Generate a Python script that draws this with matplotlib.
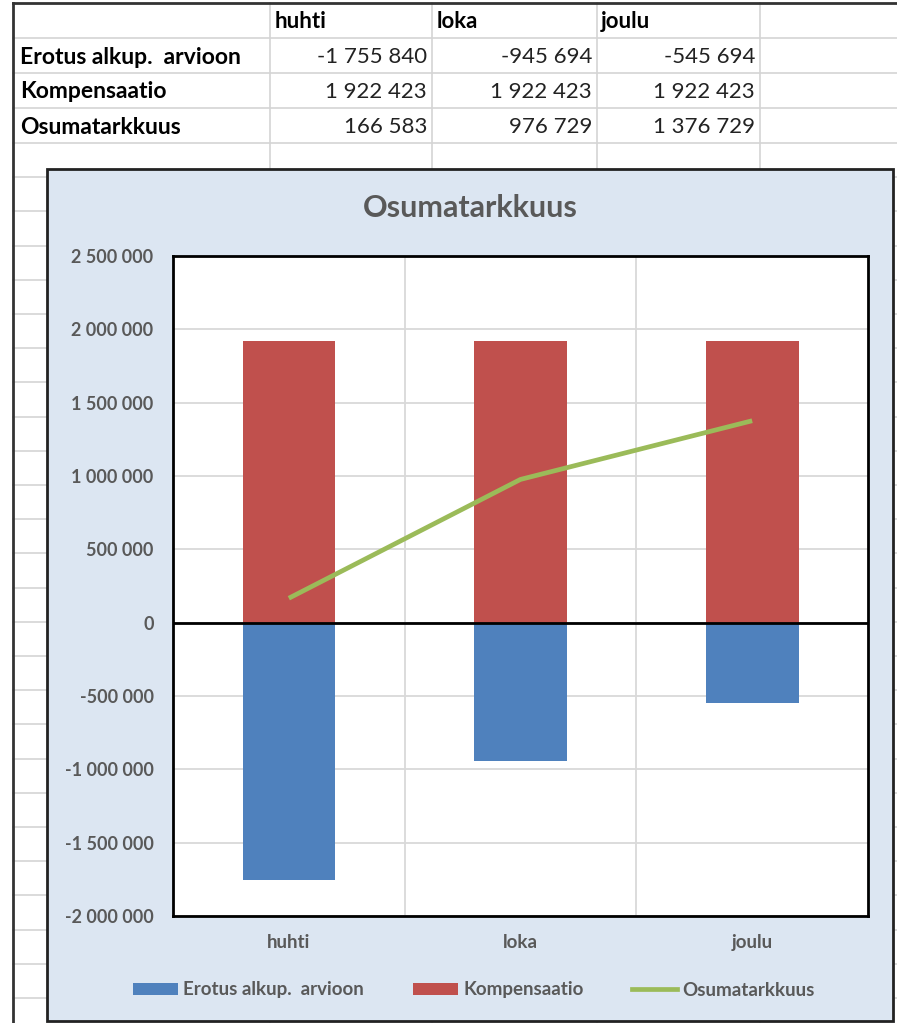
import matplotlib
matplotlib.use("Agg")
import matplotlib.pyplot as plt
from matplotlib.patches import Rectangle, Patch
from matplotlib.lines import Line2D
from matplotlib.ticker import FuncFormatter, MultipleLocator, FixedLocator

# ---------------- data ----------------
categories = ["huhti", "loka", "joulu"]
series_names = ["Erotus alkup.  arvioon", "Kompensaatio", "Osumatarkkuus"]
erotus = [-1755840, -945694, -545694]
kompensaatio = [1922423, 1922423, 1922423]
osumatarkkuus = [166583, 976729, 1376729]
chart_title = "Osumatarkkuus"

W, H = 897, 1023
plt.rcParams['font.family'] = ['Lato', 'DejaVu Sans']

fig = plt.figure(figsize=(W / 100, H / 100), dpi=100)
fig.patch.set_facecolor("white")


def fx(x):
    return x / W


def fy(y):
    return 1 - y / H


GRID = "#d4d4d4"
TXT = "#595959"
FS = 13.5

# ---------------- spreadsheet grid ----------------
row_lines = [38, 73, 108, 143]
y = 143.0
while y < H:
    y += 34.2
    row_lines.append(y)
for ry in row_lines:
    fig.add_artist(Line2D([fx(13), fx(W)], [fy(ry), fy(ry)], color=GRID, lw=1.2, zorder=-3))
for cx in [270, 432, 597, 760]:
    fig.add_artist(Line2D([fx(cx), fx(cx)], [fy(3), fy(H)], color=GRID, lw=1.2, zorder=-3))
fig.add_artist(Line2D([fx(13), fx(W)], [fy(3), fy(3)], color="#333333", lw=2, zorder=-2))
fig.add_artist(Line2D([fx(13), fx(13)], [fy(3), fy(H)], color="#333333", lw=2, zorder=-2))

# table text
col_left = [275, 437, 601]
col_right = [427, 592, 755]
for i, c in enumerate(categories):
    fig.text(fx(col_left[i]), fy(21), c, ha="left", va="center", fontsize=16,
             fontweight="bold", color="black")
rows = [erotus, kompensaatio, osumatarkkuus]
row_y = [57, 92, 127]


def fmt_num(v):
    return f"{v:,.0f}".replace(",", " ")


for r, (name, vals) in enumerate(zip(series_names, rows)):
    fig.text(fx(20), fy(row_y[r]), name, ha="left", va="center", fontsize=16.5,
             fontweight="bold", color="black")
    for i, v in enumerate(vals):
        fig.text(fx(col_right[i]), fy(row_y[r]), fmt_num(v), ha="right", va="center",
                 fontsize=16, color="#222222")

# ---------------- chart area ----------------
fig.add_artist(Rectangle((fx(47), fy(1021)), fx(893) - fx(47), fy(169) - fy(1021),
                         transform=fig.transFigure, facecolor="#dce6f2",
                         edgecolor="#222222", lw=2, zorder=-1))

ax = fig.add_axes([fx(173), fy(916), fx(868) - fx(173), fy(256) - fy(916)])
ax.set_facecolor("white")
x = list(range(len(categories)))
blue, red, green = "#4f81bd", "#c0504d", "#9bbb59"
ax.bar(x, erotus, width=0.4, color=blue, zorder=2)
ax.bar(x, kompensaatio, width=0.4, color=red, zorder=2)
ax.plot(x, osumatarkkuus, color=green, lw=3.4, solid_capstyle="butt", zorder=3)
ax.axhline(0, color="black", lw=2, zorder=4)

ax.set_xlim(-0.5, 2.5)
ax.set_ylim(-2000000, 2500000)
ax.yaxis.set_major_locator(MultipleLocator(500000))
ax.yaxis.set_major_formatter(FuncFormatter(lambda v, p: fmt_num(v)))
ax.set_xticks(x)
ax.set_xticklabels(categories)
ax.xaxis.set_minor_locator(FixedLocator([0.5, 1.5]))
ax.grid(axis="y", which="major", color="#d9d9d9", lw=1.3, zorder=0)
ax.grid(axis="x", which="minor", color="#d9d9d9", lw=1.3, zorder=0)
ax.set_axisbelow(True)
ax.tick_params(axis="both", which="both", length=0)
ax.tick_params(axis="y", pad=14, labelsize=13, labelcolor=TXT)
ax.tick_params(axis="x", pad=13, labelsize=FS, labelcolor=TXT)
for lab in ax.get_yticklabels() + ax.get_xticklabels():
    lab.set_fontweight("bold")
for s in ax.spines.values():
    s.set_color("black")
    s.set_linewidth(2)

fig.text(fx(470), fy(208), chart_title, ha="center", va="center", fontsize=22,
         fontweight="bold", color=TXT)

handles = [Patch(facecolor=blue, edgecolor="none"),
           Patch(facecolor=red, edgecolor="none"),
           Line2D([0], [0], color=green, lw=3.4)]
leg = fig.legend(handles, series_names, loc="center", bbox_to_anchor=(fx(474), fy(990)),
                 ncol=3, frameon=False, fontsize=FS, handlelength=2.4, handleheight=0.64,
                 handletextpad=0.27, columnspacing=2.6)
for t in leg.get_texts():
    t.set_color(TXT)
    t.set_fontweight("bold")

fig.savefig("out.png", dpi=100)
